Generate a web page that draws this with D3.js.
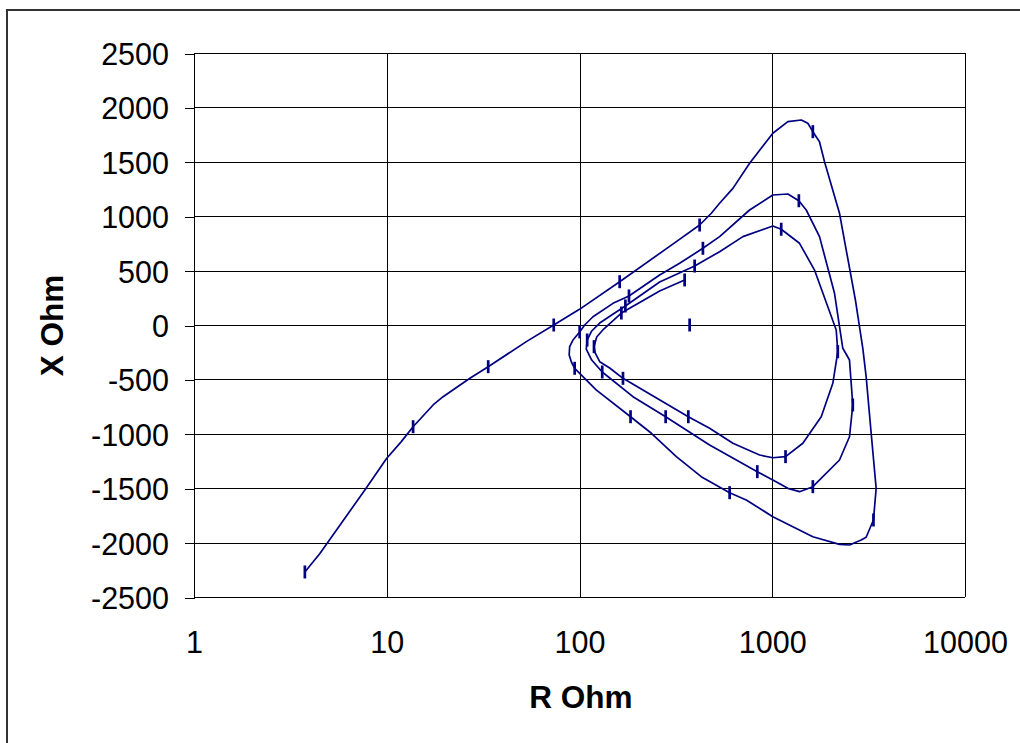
<!DOCTYPE html>
<html><head><meta charset="utf-8">
<script src="https://cdn.jsdelivr.net/npm/d3@7/dist/d3.min.js"></script>
<style>
body{margin:0;background:#fff;}
text{font-family:"Liberation Sans",Arial,sans-serif;}
</style>
</head><body>
<svg id="chart" width="1020" height="743"></svg>
<script>
// ---- data ----
const xTickValues = [1, 10, 100, 1000, 10000];
const yTickValues = [-2500, -2000, -1500, -1000, -500, 0, 500, 1000, 1500, 2000, 2500];
const xTitle = "R Ohm";
const yTitle = "X Ohm";

// impedance trajectory (R Ohm, X Ohm)
const trajectory = [
  [3.76,-2270],[4.5,-2100],[7.7,-1516],[10,-1225],[11.9,-1072],[13.7,-935],[17.4,-735],[19.6,-659],
  [27,-490],[33.6,-383],[53,-153],[73.5,0],[100,144],[161.6,398],[318,766],[420,919],[483,1027],
  [533,1119],[625,1256],[763,1486],[931,1685],[1007,1762],[1205,1869],[1414,1884],[1530,1854],
  [1624,1777],[1758,1685],[1867,1501],[2233,1027],[2420,689],[2700,230],[2950,-214],[3070,-475],
  [3260,-995],[3460,-1501],[3350,-1792],[3070,-1951],[2893,-1976],[2517,-2022],[2233,-2016],
  [1624,-1946],[1007,-1762],[733,-1608],[601,-1541],[428,-1394],[318,-1210],[236,-995],[184,-843],
  [122,-597],[94.4,-398],
  [90.8,-340],[88.4,-276],[88.9,-199],[92.5,-138],[100.2,-64],[106.4,0],[117.5,76],[149.2,199],[180.6,267],
  [260.5,460],[330.7,567],[436.8,705],[533.3,812],[762.9,1057],[1007,1195],[1205,1204],[1374,1142],
  [1501,1057],[1759,812],[2104,291],[2323,-214],[2516,-322],[2617,-735],[2516,-1027],[2233,-1241],
  [1624,-1486],[1385,-1532],[1205,-1501],[1007,-1425],[836.4,-1348],[473.1,-1103],[279.9,-843],
  [189.4,-659],[131.2,-432],
  [115.7,-322],[108.4,-221],[109.6,-138],[115.7,-55],[127.3,18],[146.9,92],[173,175],
  [260.5,395],[395.7,542],[533.3,674],[704.2,812],[1007,910],[1113,880],[1385,751],[1657,505],
  [1942,168],[2147,-46],[2188,-245],[2062,-536],[1795,-843],[1441,-1087],[1172,-1210],[1007,-1220],
  [859.8,-1195],[625,-1087],[473.1,-949],[366.9,-843],[168.1,-490],[143.4,-395],[127.3,-337],
  [120.6,-257],[118.9,-199],[122.8,-110],[133.5,-37],[164.9,110],[260.5,312],[351.1,414]
];

// time-step markers along the trajectory
const stepMarkers = [
  [3.76,-2270],[13.7,-935],[33.6,-383],[73.5,0],[161.6,398],[420,919],[1624,1777],[3350,-1792],
  [601,-1541],[184,-843],[94.4,-398],[100.2,-64],[180.6,267],[436.8,705],[1374,1142],[2617,-735],
  [1624,-1486],[836.4,-1348],[279.9,-843],[131.2,-432],[109.6,-138],[173,175],[395.7,542],
  [1113,880],[2188,-245],[1172,-1210],[366.9,-843],[168.1,-490],[118.9,-199],[164.9,110],[351.1,414]
];
const extraMarker = [[372.7,0]];

// ---- layout ----
const svg = d3.select("#chart");
const plot = {left:194, right:965, top:53, bottom:597};
const navy = "#000080";

svg.append("rect").attr("x",7).attr("y",10).attr("width",1040).attr("height",760)
  .attr("fill","#fff").attr("stroke","#333").attr("stroke-width",2);

const x = d3.scaleLog().domain([1,10000]).range([plot.left, plot.right]);
const y = d3.scaleLinear().domain([-2500,2500]).range([plot.bottom, plot.top]);

// gridlines
const g = svg.append("g").attr("shape-rendering","crispEdges");
g.selectAll("line.h").data(yTickValues).enter().append("line")
  .attr("x1",plot.left).attr("x2",plot.right)
  .attr("y1",d=>Math.round(y(d))+0.5).attr("y2",d=>Math.round(y(d))+0.5)
  .attr("stroke","#000").attr("stroke-width",1);
g.selectAll("line.v").data(xTickValues).enter().append("line")
  .attr("x1",d=>Math.round(x(d))+0.5).attr("x2",d=>Math.round(x(d))+0.5)
  .attr("y1",plot.top).attr("y2",plot.bottom)
  .attr("stroke","#000").attr("stroke-width",1);

// y axis
const yAxis = svg.append("g").attr("transform",`translate(${plot.left+0.5},0.5)`)
  .call(d3.axisLeft(y).tickValues(yTickValues).tickSize(10).tickPadding(15.5).tickFormat(d=>String(d)));
yAxis.select(".domain").remove();
yAxis.selectAll("line").attr("stroke","#000").attr("shape-rendering","crispEdges");
yAxis.selectAll("text").attr("font-size","30.5px").attr("fill","#000").attr("dy","0.36em")
  .attr("font-family","'Liberation Sans',Arial,sans-serif");

// x axis
const xAxis = svg.append("g").attr("transform",`translate(0,${plot.bottom})`)
  .call(d3.axisBottom(x).tickValues(xTickValues).tickSize(0).tickPadding(34).tickFormat(d=>String(d)));
xAxis.select(".domain").remove();
xAxis.selectAll("text").attr("font-size","30.5px").attr("fill","#000").attr("dy","0.71em")
  .attr("font-family","'Liberation Sans',Arial,sans-serif");

// titles
svg.append("text").attr("x",(plot.left+plot.right)/2+1.5).attr("y",708)
  .attr("text-anchor","middle").attr("font-size","31.5px").attr("font-weight","bold").text(xTitle);
svg.append("text").attr("transform","translate(63,325.5) rotate(-90)")
  .attr("text-anchor","middle").attr("font-size","31.5px").attr("font-weight","bold").text(yTitle);

// trajectory line
const line = d3.line().x(d=>x(d[0])).y(d=>y(d[1]));
svg.append("path").datum(trajectory).attr("d",line)
  .attr("fill","none").attr("stroke",navy).attr("stroke-width",1.7).attr("stroke-linejoin","round");

// markers (vertical dashes)
svg.append("g").selectAll("line").data(stepMarkers.concat(extraMarker)).enter().append("line")
  .attr("x1",d=>x(d[0])).attr("x2",d=>x(d[0]))
  .attr("y1",d=>y(d[1])-6.5).attr("y2",d=>y(d[1])+6.5)
  .attr("stroke",navy).attr("stroke-width",2.7);
</script>
</body></html>
